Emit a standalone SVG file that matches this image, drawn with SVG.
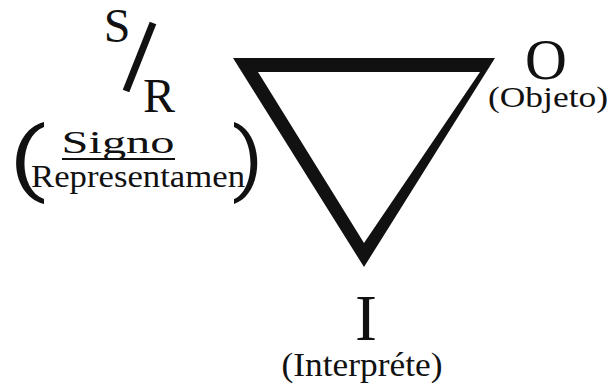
<svg xmlns="http://www.w3.org/2000/svg" width="609" height="387" viewBox="0 0 609 387">
<style>
.br{fill:#111;stroke:none}
</style>
<rect width="609" height="387" fill="#fff"/>
<g id="triangle">
<path d="M233 58 L495 58 L364 267 Z M258 72 L364 243 L480 72 Z" fill="#111" fill-rule="evenodd"/>
</g>
<g font-family="Liberation Serif, serif" fill="#111" text-anchor="middle">
<g id="node-S">
<text x="117" y="42" font-size="48">S</text>
<line x1="153" y1="23" x2="126" y2="91" stroke="#111" stroke-width="7"/>
<text x="159" y="112" font-size="48">R</text>
</g>
<g id="node-signo">
<path class="br" d="M44 122 L44 127 C18 137 18 190 44 199 L44 204 C7 194 7 132 44 122 Z"/>
<path class="br" d="M234 122 L234 127 C256 137 256 190 234 199 L234 204 C265 194 265 132 234 122 Z"/>
<text x="118" y="153" font-size="32" textLength="113" lengthAdjust="spacingAndGlyphs">Signo</text>
<line x1="62" y1="159" x2="175" y2="159" stroke="#111" stroke-width="2"/>
<text x="138" y="187" font-size="32" textLength="214" lengthAdjust="spacingAndGlyphs">Representamen</text>
</g>
<g id="node-O">
<text x="546" y="79" font-size="58">O</text>
<text x="548" y="107" font-size="29" textLength="120" lengthAdjust="spacingAndGlyphs">(Objeto)</text>
</g>
<g id="node-I">
<text x="366" y="340" font-size="66">I</text>
<text x="362" y="376" font-size="33" textLength="161" lengthAdjust="spacingAndGlyphs">(Interpréte)</text>
</g>
</g>
<g id="connectors"></g>
</svg>
